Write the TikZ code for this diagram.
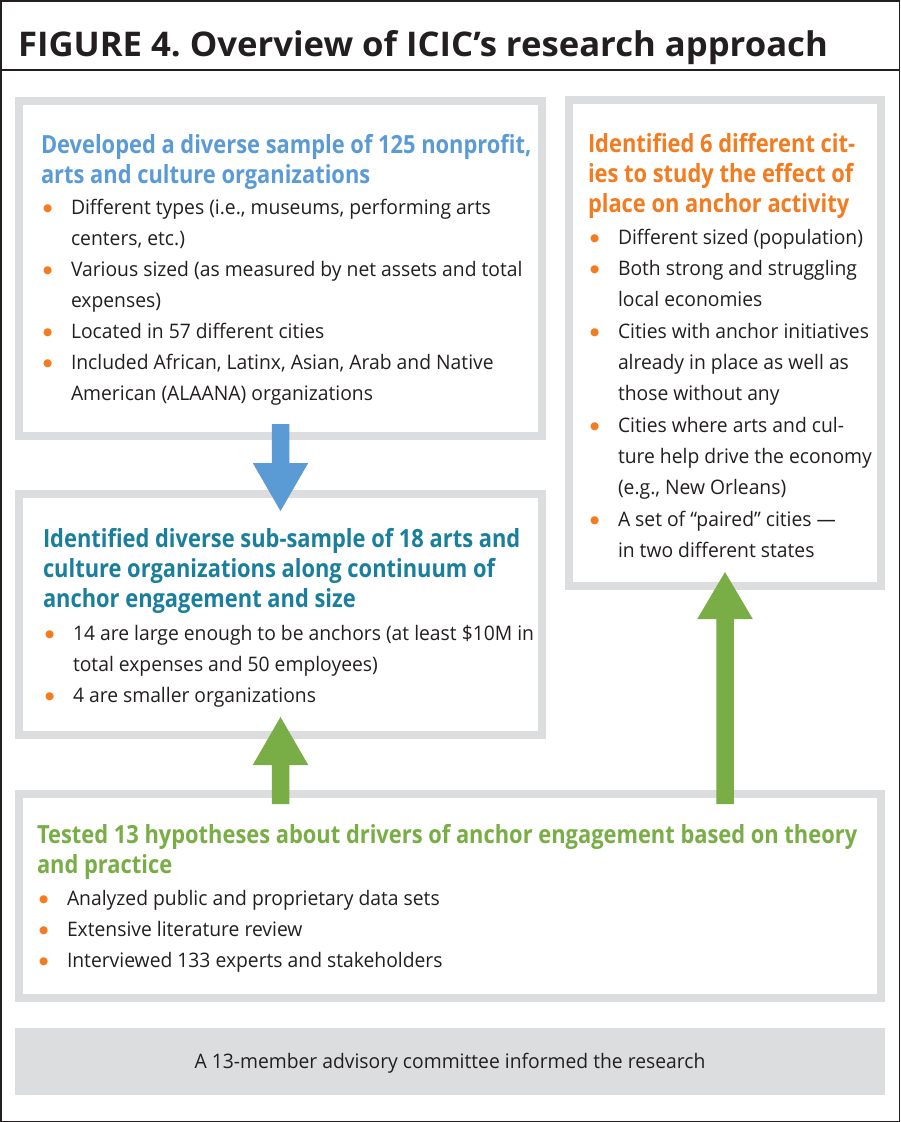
\documentclass[tikz,border=0pt]{standalone}
\usepackage{fontspec}
\usetikzlibrary{calc}
\setmainfont{Open Sans}
\newfontfamily\bodyfont{Open Sans}[FakeStretch=0.965]
\newfontfamily\headfont{Open Sans}[FakeStretch=0.875]
\newfontfamily\titlefont{Open Sans}[FakeStretch=1.02]
\newfontfamily\symfont{DejaVu Sans}
\definecolor{txt}{HTML}{231F20}
\definecolor{boxgray}{HTML}{DCDDDF}
\definecolor{cblue}{HTML}{5B9BD5}
\definecolor{cteal}{HTML}{1A7F9C}
\definecolor{corange}{HTML}{F37B20}
\definecolor{cgreen}{HTML}{79AD45}
\newcommand\hd{\headfont\bfseries\fontsize{25}{30}\selectfont}
\newcommand\bd{\bodyfont\fontsize{20}{31}\selectfont}
\newcommand\bdot{\raisebox{3pt}{\symfont\fontsize{10.5}{10.5}\selectfont\color{corange}●}}
\newcommand\bi{\hspace*{2pt}\makebox[28pt][l]{\bdot}}
\newcommand\bc{\hspace*{30pt}}
\newcommand\blockarrow[4]{%
  \fill[#1] ($(#2)+(-8.75,0)$) -- ($(#3)+(-8.75,0)$) -- ($(#3)+(-27.75,0)$) -- (#4)
    -- ($(#3)+(27.75,0)$) -- ($(#3)+(8.75,0)$) -- ($(#2)+(8.75,0)$) -- cycle;}
\tikzset{
  gbox/.style={draw=boxgray, line width=8pt, fill=white, inner sep=0pt, outer sep=0pt, anchor=north west},
  txtnode/.style={anchor=base west, inner sep=0pt, outer sep=0pt},
}
\frenchspacing
\begin{document}
\begin{tikzpicture}[x=1pt,y=-1pt]
\useasboundingbox (0,0) rectangle (900,1122);
% frame and title
\draw[txt, line width=1.5pt] (0.75,0.75) rectangle (899.25,1121.25);
\node[txtnode] (title) at (18,56) {\titlefont\bfseries\fontsize{34}{40}\selectfont\color{txt}FIGURE 4. Overview of ICIC’s research approach};
\draw[txt, line width=2pt] (0,70) -- (900,70);
% boxes
\node[gbox, minimum width=523pt, minimum height=335pt] (b1) at (19,101) {};
\node[gbox, minimum width=523pt, minimum height=241pt] (b2) at (19,494) {};
\node[gbox, minimum width=312pt, minimum height=486pt] (b3) at (569,100) {};
\node[gbox, minimum width=862pt, minimum height=204pt] (b4) at (19,794) {};
\node[fill=boxgray, inner sep=0pt, outer sep=0pt, anchor=north west, minimum width=870pt, minimum height=67pt] (note) at (15,1028) {};
% box 1 text
\node[txtnode] (t1) at (41,153) {\parbox[t]{520pt}{%
{\hd\leavevmode\color{cblue}Developed a diverse sample of 125 nonprofit,\\arts and culture organizations\par}
{\bd\leavevmode\color{txt}%
\bi Different types (i.e., museums, performing arts\\
\bc centers, etc.)\\
\bi Various sized (as measured by net assets and total\\
\bc expenses)\\
\bi Located in 57 different cities\\
\bi Included African, Latinx, Asian, Arab and Native\\
\bc American (ALAANA) organizations\par}}};
% box 2 text
\node[txtnode] (t2) at (43,547) {\parbox[t]{520pt}{%
{\hd\leavevmode\color{cteal}Identified diverse sub-sample of 18 arts and\\culture organizations along continuum of\\anchor engagement and size\par}
\vspace{2pt}
{\bd\leavevmode\color{txt}%
\bi 14 are large enough to be anchors (at least \$10M in\\
\bc total expenses and 50 employees)\\
\bi 4 are smaller organizations\par}}};
% box 3 text
\node[txtnode] (t3) at (588,152) {\parbox[t]{300pt}{%
{\hd\leavevmode\color{corange}Identified 6 different cit-\\ies to study the effect of\\place on anchor activity\par}
\vspace{1pt}
{\bodyfont\fontsize{20}{31.3}\selectfont\leavevmode\color{txt}%
\bi Different sized (population)\\
\bi Both strong and struggling\\
\bc local economies\\
\bi Cities with anchor initiatives\\
\bc already in place as well as\\
\bc those without any\\
\bi Cities where arts and cul-\\
\bc ture help drive the economy\\
\bc (e.g., New Orleans)\\
\bi A set of “paired” cities —\\
\bc in two different states\par}}};
% box 4 text
\node[txtnode] (t4) at (37,843) {\parbox[t]{850pt}{%
{\hd\leavevmode\color{cgreen}Tested 13 hypotheses about drivers of anchor engagement based on theory\\and practice\par}
\vspace{1pt}
{\bd\leavevmode\color{txt}%
\bi Analyzed public and proprietary data sets\\
\bi Extensive literature review\\
\bi Interviewed 133 experts and stakeholders\par}}};
% note text
\node[anchor=base, inner sep=0pt] (notetext) at (450,1068) {\bodyfont\fontsize{20}{24}\selectfont\color{txt}A 13-member advisory committee informed the research};
% arrows
\coordinate (a1s) at (280.5,424); \coordinate (a1b) at (280.5,463); \coordinate (a1t) at (280.5,511);
\coordinate (a2s) at (280.5,804); \coordinate (a2b) at (280.5,765); \coordinate (a2t) at (280.5,717);
\coordinate (a3s) at (725,804); \coordinate (a3b) at (725,619); \coordinate (a3t) at (725,572);
\blockarrow{cblue}{a1s}{a1b}{a1t}
\blockarrow{cgreen}{a2s}{a2b}{a2t}
\blockarrow{cgreen}{a3s}{a3b}{a3t}
\end{tikzpicture}
\end{document}
